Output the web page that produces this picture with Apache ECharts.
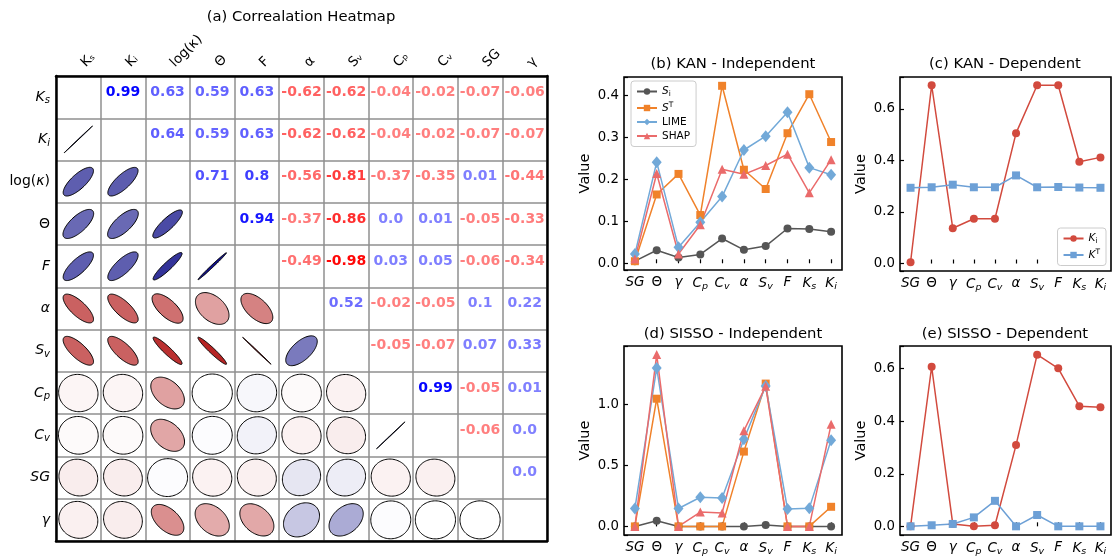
<!DOCTYPE html>
<html><head><meta charset="utf-8">
<script src="https://cdn.jsdelivr.net/npm/echarts@6/dist/echarts.min.js"></script>
<style>html,body{margin:0;padding:0;background:#fff}#c{width:1115px;height:557px}</style>
</head><body><div id="c"></div><script>
// ---------- DATA ----------
const variables = ['Ks','Ki','log(κ)','Θ','F','α','Sv','Cp','Cv','SG','γ'];
const colLabels = ['Kₛ','Kᵢ','log(κ)','Θ','F','α','Sᵥ','Cₚ','Cᵥ','SG','γ'];
// upper-triangle correlation rows (values to the right of the diagonal)
const corrKs    = [0.99,0.63,0.59,0.63,-0.62,-0.62,-0.04,-0.02,-0.07,-0.06];
const corrKi    = [0.64,0.59,0.63,-0.62,-0.62,-0.04,-0.02,-0.07,-0.07];
const corrLog   = [0.71,0.8,-0.56,-0.81,-0.37,-0.35,0.01,-0.44];
const corrTheta = [0.94,-0.37,-0.86,0.0,0.01,-0.05,-0.33];
const corrF     = [-0.49,-0.98,0.03,0.05,-0.06,-0.34];
const corrAlpha = [0.52,-0.02,-0.05,0.1,0.22];
const corrSv    = [-0.05,-0.07,0.07,0.33];
const corrCp    = [0.99,-0.05,0.01];
const corrCv    = [-0.06,0.0];
const corrSG    = [0.0];

const features = ['SG','Θ','γ','Cp','Cv','α','Sv','F','Ks','Ki'];
const kanSi   = [0.005,0.031,0.014,0.021,0.059,0.032,0.041,0.083,0.082,0.075];
const kanST   = [0.005,0.164,0.213,0.115,0.423,0.223,0.177,0.310,0.403,0.289];
const kanLIME = [0.022,0.241,0.038,0.098,0.159,0.270,0.303,0.360,0.228,0.211];
const kanSHAP = [0.010,0.214,0.022,0.092,0.224,0.212,0.233,0.260,0.168,0.247];
const kanKi   = [0.005,0.692,0.137,0.174,0.174,0.506,0.692,0.692,0.395,0.412];
const kanKT   = [0.294,0.296,0.306,0.296,0.296,0.342,0.296,0.297,0.295,0.294];
const sissoSi   = [0,0.046,0,0,0,0,0.011,0,0,0];
const sissoST   = [0,1.048,0,0,0,0.614,1.172,0,0,0.161];
const sissoLIME = [0.147,1.30,0.147,0.239,0.233,0.716,1.153,0.142,0.150,0.708];
const sissoSHAP = [0,1.41,0,0.118,0.110,0.786,1.150,0,0,0.838];
const sissoKi   = [0,0.607,0.009,0,0.004,0.309,0.653,0.601,0.457,0.453];
const sissoKT   = [0,0.004,0.009,0.034,0.097,0,0.043,0,0,0];

// ---------- BUILD ----------
const F = 'DejaVu Sans';
const upperRows = [corrKs,corrKi,corrLog,corrTheta,corrF,corrAlpha,corrSv,corrCp,corrCv,corrSG];
const n = variables.length;
const M = Array.from({length:n},()=>Array(n).fill(null));
upperRows.forEach((row,i)=>row.forEach((v,k)=>{const j=i+1+k; M[i][j]=v; M[j][i]=v;}));
const textData=[], ellData=[];
for(let i=0;i<n;i++) for(let j=0;j<n;j++){
  if(j>i) textData.push([j,i,M[i][j]]);
  else if(j<i) ellData.push([j,i,M[i][j]]);
}
function fmt(v){ let s=String(Math.round(v*100)/100); if(s.indexOf('.')<0) s+='.0'; return s; }
function txtColor(r){ const a=0.5+0.5*Math.pow(Math.abs(r),3); const c=Math.round(255*(1-a));
  return r>=0?`rgb(${c},${c},255)`:`rgb(255,${c},${c})`; }
function ellColor(r){ const t=Math.min(1,Math.abs(r));
  if(r>=0) return `rgb(${Math.round(255*(1-t))},${Math.round(255*(1-t))},${Math.round(255-127*t)})`;
  return `rgb(${Math.round(255-85*t)},${Math.round(255*(1-t))},${Math.round(255*(1-t))})`; }

const rowRich = {
  it:{fontStyle:'italic',fontSize:14,fontFamily:F,color:'#000'},
  up:{fontSize:14,fontFamily:F,color:'#000'},
  sub:{fontStyle:'italic',fontSize:10,fontFamily:F,color:'#000',padding:[7,0,0,0]}
};
const rowFmt = {'Ks':'{it|K}{sub|s}','Ki':'{it|K}{sub|i}','log(κ)':'{up|log(}{it|κ}{up|)}','Θ':'{up|Θ}','F':'{it|F}',
  'α':'{it|α}','Sv':'{it|S}{sub|v}','Cp':'{it|C}{sub|p}','Cv':'{it|C}{sub|v}','SG':'{it|SG}','γ':'{it|γ}'};
const axRich = {
  it:{fontStyle:'italic',fontSize:13.5,fontFamily:F,color:'#000'},
  up:{fontSize:13.5,fontFamily:F,color:'#000'},
  sub:{fontStyle:'italic',fontSize:9.5,fontFamily:F,color:'#000',padding:[7,0,0,0]}
};
const legRich = {
  it:{fontStyle:'italic',fontSize:10.5,fontFamily:F,color:'#000'},
  up:{fontSize:10.5,fontFamily:F,color:'#000'},
  sub:{fontSize:7.5,fontFamily:F,color:'#000',padding:[5,0,0,0]},
  sup:{fontSize:7.5,fontFamily:F,color:'#000',padding:[0,0,6,0]}
};
const legFmt = {'Si':'{it|S}{sub|i}','ST':'{it|S}{sup|T}','LIME':'{up|LIME}','SHAP':'{up|SHAP}','Ki':'{it|K}{sub|i}','KT':'{it|K}{sup|T}'};

const C = {Si:'#555555', ST:'#f0822a', LIME:'#72a9d8', SHAP:'#ea6b6b', Ki:'#d24a3e', KT:'#6da0d6'};

function frameAxisX(pos){ return {gridIndex:1,type:'category',data:variables,position:pos,z:10,
  axisLine:{show:true,lineStyle:{color:'#000',width:2.5}},axisTick:{show:false},axisLabel:{show:false},splitLine:{show:false}}; }
function frameAxisY(pos){ return {gridIndex:1,type:'category',data:variables,position:pos,inverse:true,z:10,
  axisLine:{show:true,lineStyle:{color:'#000',width:2.5}},axisTick:{show:false},axisLabel:{show:false},splitLine:{show:false}}; }
function lineAxisX(gi){ return {gridIndex:gi,type:'category',data:features,boundaryGap:true,
  axisLine:{show:false},axisTick:{show:true,inside:true,alignWithLabel:true,length:4,lineStyle:{color:'#000',width:1.2}},
  axisLabel:{interval:0,margin:5,formatter:v=>rowFmt[v]||('{it|'+v+'}'),rich:axRich},splitLine:{show:false}}; }
function lineAxisY(gi,min,max,step){ return {gridIndex:gi,type:'value',min,max,minInterval:step,maxInterval:step,
  name:'Value',nameLocation:'middle',nameGap:31,nameTextStyle:{fontSize:14.5,fontFamily:F,color:'#000'},
  axisLine:{show:false},axisTick:{show:true,inside:true,length:4,lineStyle:{color:'#000',width:1.2}},
  axisLabel:{fontSize:13.3,fontFamily:F,color:'#000',margin:5,
    formatter:v=>Math.abs(v/step-Math.round(v/step))<1e-6?v.toFixed(1):''},
  splitLine:{show:false}}; }
function ls(name,data,xi,yi,symbol,size){ const col=C[name]; return {type:'line',name,data,xAxisIndex:xi,yAxisIndex:yi,
  symbol,symbolSize:size,showSymbol:true,showAllSymbol:true,lineStyle:{color:col,width:1.5},itemStyle:{color:col},
  emphasis:{disabled:true}}; }
const panelGrid = {show:true,borderColor:'#000',borderWidth:1.6,backgroundColor:'transparent'};

const option = {
  animation:false,
  backgroundColor:'#fff',
  textStyle:{fontFamily:F},
  grid:[
    {left:56,top:76,width:491,height:465},
    {left:56,top:76,width:491,height:465},
    Object.assign({left:624,top:77,width:218,height:193},panelGrid),
    Object.assign({left:900,top:77,width:211,height:194},panelGrid),
    Object.assign({left:624,top:346,width:218,height:195},panelGrid),
    Object.assign({left:900,top:346,width:211,height:195},panelGrid)
  ],
  xAxis:[
    {gridIndex:0,type:'category',data:variables,position:'top',
     axisLine:{show:false},axisTick:{show:false},
     axisLabel:{rotate:-45,margin:6,padding:[0,0,0,7],fontSize:13.5,fontFamily:F,color:'#000',interval:0,
       formatter:v=>colLabels[variables.indexOf(v)]},
     splitLine:{show:true,interval:0,lineStyle:{color:'#8f8f8f',width:1.5}}},
    frameAxisX('top'), frameAxisX('bottom'),
    lineAxisX(2), lineAxisX(3), lineAxisX(4), lineAxisX(5)
  ],
  yAxis:[
    {gridIndex:0,type:'category',data:variables,inverse:true,
     axisLine:{show:false},axisTick:{show:false},
     axisLabel:{margin:6,interval:0,formatter:v=>rowFmt[v],rich:rowRich},
     splitLine:{show:true,interval:0,lineStyle:{color:'#8f8f8f',width:1.5}}},
    frameAxisY('left'), frameAxisY('right'),
    lineAxisY(2,-0.016,0.444,0.1), lineAxisY(3,-0.029,0.724,0.2),
    lineAxisY(4,-0.0705,1.4805,0.5), lineAxisY(5,-0.033,0.686,0.2)
  ],
  legend:[
    {data:['Si','ST','LIME','SHAP'],orient:'vertical',left:631,top:81,itemWidth:20,itemHeight:8,itemGap:3,
     padding:[5,6,5,5],borderColor:'#cccccc',borderWidth:1,borderRadius:3,backgroundColor:'#fff',
     formatter:nm=>legFmt[nm],textStyle:{fontSize:10.5,fontFamily:F,color:'#000',rich:legRich}},
    {data:['Ki','KT'],orient:'vertical',right:9,top:228,itemWidth:20,itemHeight:8,itemGap:3,
     padding:[5,6,5,5],borderColor:'#cccccc',borderWidth:1,borderRadius:3,backgroundColor:'#fff',
     formatter:nm=>legFmt[nm],textStyle:{fontSize:10.5,fontFamily:F,color:'#000',rich:legRich}}
  ],
  graphic:[
    {type:'text',x:301,y:17,style:{text:'(a) Correalation Heatmap',fontSize:14.8,fontFamily:F,fill:'#000',align:'center',verticalAlign:'middle'}},
    {type:'text',x:733,y:64,style:{text:'(b) KAN - Independent',fontSize:14.8,fontFamily:F,fill:'#000',align:'center',verticalAlign:'middle'}},
    {type:'text',x:1005,y:64,style:{text:'(c) KAN - Dependent',fontSize:14.8,fontFamily:F,fill:'#000',align:'center',verticalAlign:'middle'}},
    {type:'text',x:733,y:334,style:{text:'(d) SISSO - Independent',fontSize:14.8,fontFamily:F,fill:'#000',align:'center',verticalAlign:'middle'}},
    {type:'text',x:1005,y:334,style:{text:'(e) SISSO - Dependent',fontSize:14.8,fontFamily:F,fill:'#000',align:'center',verticalAlign:'middle'}}
  ],
  series:[
    {type:'custom',name:'ellipses',coordinateSystem:'cartesian2d',xAxisIndex:0,yAxisIndex:0,data:ellData,
     renderItem:function(params,api){
       const c=api.coord([api.value(0),api.value(1)]);
       const sz=api.size([1,1]); const w=Math.abs(sz[0]), h=Math.abs(sz[1]);
       const r=api.value(2); const a=0.45, b=Math.max(0.0015,0.45*(1-Math.abs(r)));
       const sg=r>=0?1:-1; const pts=[];
       for(let k=0;k<90;k++){const t=k/90*2*Math.PI; const u=a*Math.cos(t), v=b*Math.sin(t);
         const x=(u-v)*Math.SQRT1_2, y=(u+v)*Math.SQRT1_2; pts.push([c[0]+x*w, c[1]-sg*y*h]);}
       return {type:'polygon',shape:{points:pts},style:{fill:ellColor(r),stroke:'#000',lineWidth:1}};
     }},
    {type:'custom',name:'values',coordinateSystem:'cartesian2d',xAxisIndex:0,yAxisIndex:0,data:textData,
     renderItem:function(params,api){
       const c=api.coord([api.value(0),api.value(1)]); const r=api.value(2);
       return {type:'text',x:c[0],y:c[1]-5,style:{text:fmt(r),fill:txtColor(r),fontSize:14,fontWeight:'bold',fontFamily:F,align:'center',verticalAlign:'middle'}};
     }},
    ls('Si',kanSi,3,3,'circle',8), ls('ST',kanST,3,3,'rect',8), ls('LIME',kanLIME,3,3,'diamond',[10,12]), ls('SHAP',kanSHAP,3,3,'triangle',9),
    ls('Ki',kanKi,4,4,'circle',8), ls('KT',kanKT,4,4,'rect',8),
    ls('Si',sissoSi,5,5,'circle',8), ls('ST',sissoST,5,5,'rect',8), ls('LIME',sissoLIME,5,5,'diamond',[10,12]), ls('SHAP',sissoSHAP,5,5,'triangle',9),
    ls('Ki',sissoKi,6,6,'circle',8), ls('KT',sissoKT,6,6,'rect',8)
  ]
};
const chart = echarts.init(document.getElementById('c'));
chart.setOption(option);
</script></body></html>
